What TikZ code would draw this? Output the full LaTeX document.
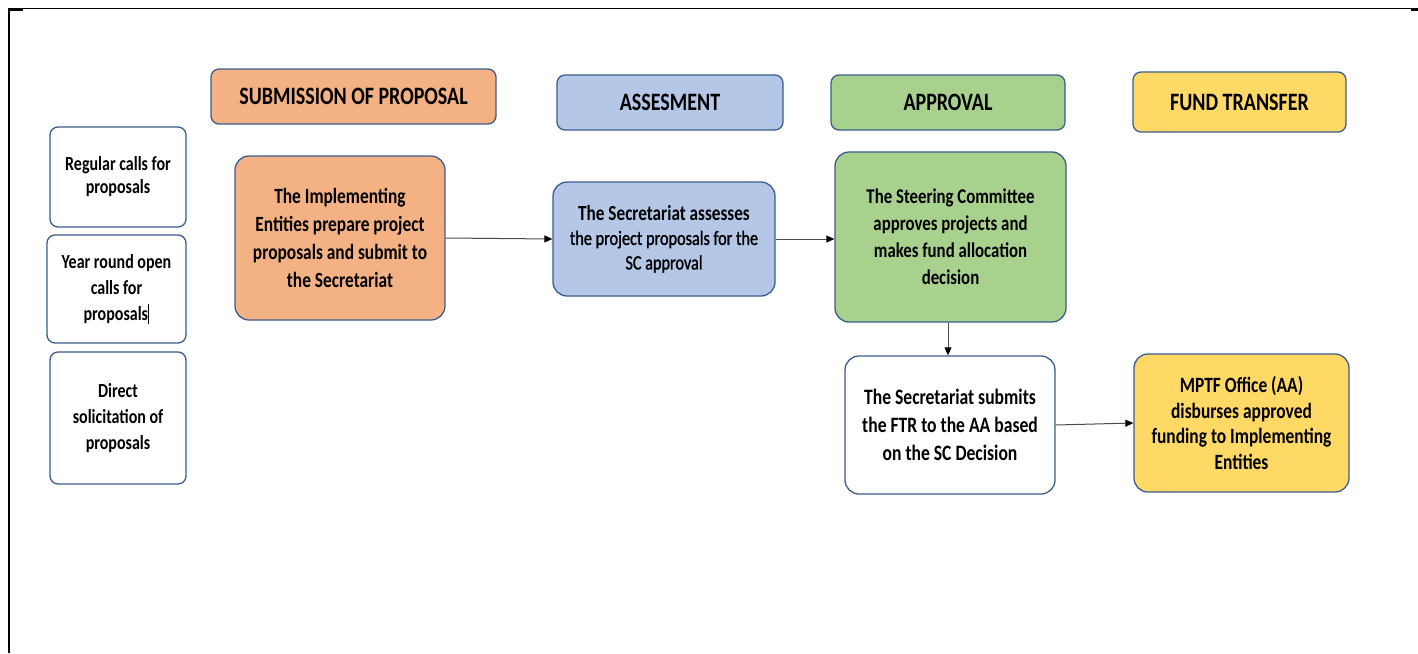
\documentclass[tikz,border=0pt]{standalone}
\usepackage{fontspec}
\setmainfont[FakeStretch=0.8]{Carlito}
\newfontfamily\semibfont[FakeStretch=0.8,FakeBold=1.2]{Carlito}
\usetikzlibrary{arrows.meta}
\definecolor{bordc}{HTML}{3B5C8E}
\definecolor{orangef}{HTML}{F4B183}
\definecolor{bluef}{HTML}{B4C7E7}
\definecolor{greenf}{HTML}{A9D18E}
\definecolor{yellowf}{HTML}{FFD966}
\definecolor{arrc}{HTML}{4A4A4A}
\tikzset{
  basebox/.style={draw=bordc, line width=1.3pt, rounded corners=14pt, align=center, inner sep=0pt, font=\bfseries\fontsize{21.5}{27.5}\selectfont},
  hdr/.style={basebox, rounded corners=8pt, font=\bfseries\fontsize{25}{28}\selectfont},
  small/.style={basebox, fill=white, rounded corners=8pt, font=\bfseries\fontsize{20}{26}\selectfont},
  conn/.style={draw=arrc, line width=1pt, -{Triangle[length=8pt,width=7pt,color=black]}}
}
\begin{document}
\begin{tikzpicture}[x=1pt,y=-1pt]
\useasboundingbox (0,0) rectangle (1418,653);
% frame
\draw[line width=1.3pt] (8,8.5) -- (1418,8.5);
\draw[line width=2pt] (9,8) -- (9,653);
\draw[line width=2pt] (8,9.5) -- (23,9.5);
\draw[line width=2pt] (1411,10) -- (1418,10);
% headers
\node[hdr, fill=orangef, minimum width=285, minimum height=55] (subhdr) at (353.5,96.5) {SUBMISSION OF PROPOSAL};
\node[hdr, fill=bluef, minimum width=226, minimum height=55] (asshdr) at (670,102.5) {ASSESMENT};
\node[hdr, fill=greenf, minimum width=234, minimum height=55] (apphdr) at (948,102.5) {APPROVAL};
\node[hdr, fill=yellowf, minimum width=213, minimum height=60] (fundhdr) at (1239.5,102) {FUND TRANSFER};
% left boxes
\node[small, minimum width=136, minimum height=100, font=\bfseries\fontsize{20}{23}\selectfont] (reg) at (118,177) {Regular calls for\\proposals};
\node[small, minimum width=139, minimum height=108] (year) at (116.5,289) {Year round open\\calls for\\proposals\rule[-4pt]{1.3pt}{20pt}};
\node[small, minimum width=136, minimum height=132] (direct) at (118,418) {Direct\\solicitation of\\proposals};
% main boxes
\node[basebox, fill=orangef, minimum width=210, minimum height=164, font=\bfseries\fontsize{21.7}{28}\selectfont] (impl) at (340,238) {The Implementing\\Entities prepare project\\proposals and submit to\\the Secretariat};
\node[basebox, fill=bluef, minimum width=222, minimum height=114, font=\semibfont\fontsize{20.3}{24.5}\selectfont] (assess) at (664,239) {{\rmfamily\bfseries\fontsize{21.5}{24.5}\selectfont The Secretariat assesses}\\the project proposals for the\\SC approval};
\node[basebox, fill=greenf, minimum width=231, minimum height=170, font=\bfseries\fontsize{21}{27}\selectfont] (steer) at (950.5,237) {The Steering Committee\\approves projects and\\makes fund allocation\\decision};
\node[basebox, fill=white, minimum width=210, minimum height=138, font=\bfseries\fontsize{22}{28}\selectfont] (submit) at (950,425) {The Secretariat submits\\the FTR to the AA based\\on the SC Decision};
\node[basebox, fill=yellowf, minimum width=215, minimum height=138, font=\bfseries\fontsize{21.8}{25.5}\selectfont] (mptf) at (1241.5,423) {MPTF Office (AA)\\disburses approved\\funding to Implementing\\Entities};
% connectors
\draw[conn] (impl.east) -- (assess.west);
\draw[conn] (assess.east) -- (assess.east -| steer.west);
\draw[conn] (steer.south -| 948,0) -- (submit.north -| 948,0);
\draw[conn] (submit.east) -- (mptf.west);
\end{tikzpicture}
\end{document}
